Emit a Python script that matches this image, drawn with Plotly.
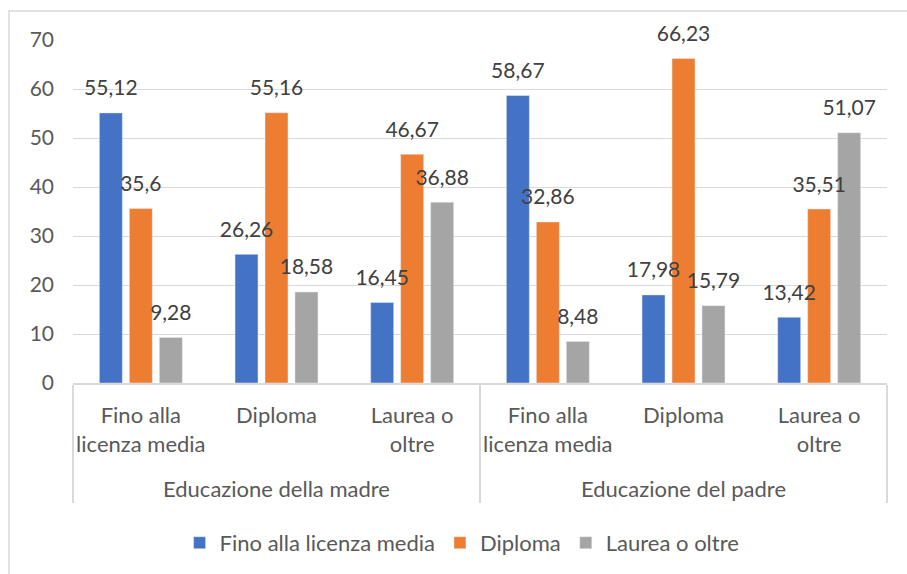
import plotly.graph_objects as go

groups = ["Educazione della madre"] * 3 + ["Educazione del padre"] * 3
categories = ["Fino alla<br>licenza media<br> ", "Diploma", "Laurea o<br>oltre"] * 2
series_names = ["Fino alla licenza media", "Diploma", "Laurea o oltre"]
fino_vals = [55.12, 26.26, 16.45, 58.67, 17.98, 13.42]
diploma_vals = [35.6, 55.16, 46.67, 32.86, 66.23, 35.51]
laurea_vals = [9.28, 18.58, 36.88, 8.48, 15.79, 51.07]
colors = ["#4472C4", "#ED7D31", "#A5A5A5"]

FONT = "Lato"
TXT = "#595959"
GRID = "#D9D9D9"

fig = go.Figure()
x = [groups, categories]

for i, (name, vals) in enumerate(zip(series_names, [fino_vals, diploma_vals, laurea_vals])):
    fig.add_trace(go.Bar(
        x=x, y=vals, name=name, marker_color=colors[i],
        offsetgroup=str(i), hoverinfo="skip",
    ))

# data labels, placed above the bars via grouped scatter
for i, vals in enumerate([fino_vals, diploma_vals, laurea_vals]):
    fig.add_trace(go.Scatter(
        x=x, y=vals, mode="markers+text",
        text=[str(v).replace(".", ",") for v in vals],
        textposition="top center",
        textfont=dict(family=FONT, size=21, color="#404040"),
        marker=dict(size=18, opacity=0),
        offsetgroup=str(i), showlegend=False, hoverinfo="skip",
        cliponaxis=False,
    ))

fig.update_layout(
    width=907, height=574,
    margin=dict(l=73, r=20, t=40, b=190),
    paper_bgcolor="white", plot_bgcolor="white",
    barmode="group", bargap=0.337, bargroupgap=0.233,
    scattermode="group",
    font=dict(family=FONT, size=22, color=TXT),
    legend=dict(orientation="h", x=0.478, xanchor="center", y=-0.462, yanchor="middle",
                font=dict(family=FONT, size=22, color=TXT), itemwidth=30),
    shapes=[dict(type="rect", xref="paper", yref="paper",
                 x0=-0.0786, x1=1.1, y0=-0.7, y1=1.0843,
                 line=dict(color=GRID, width=1.5), layer="below")],
)

fig.update_yaxes(
    range=[0, 70], dtick=10, showgrid=True, gridcolor=GRID, gridwidth=1.3,
    zeroline=False, showline=False, ticks="", ticklabelstandoff=18,
    tickfont=dict(family=FONT, size=21, color=TXT),
)
fig.update_xaxes(
    type="multicategory", showline=True, linecolor=GRID, linewidth=1.5,
    showdividers=True, dividercolor=GRID, dividerwidth=1.5, tickangle=0,
    ticks="", ticklabelstandoff=12, tickfont=dict(family=FONT, size=22, color=TXT),
)

fig.write_html("out.html", config={"displayModeBar": False},
               post_script="document.body.style.margin='0';")
